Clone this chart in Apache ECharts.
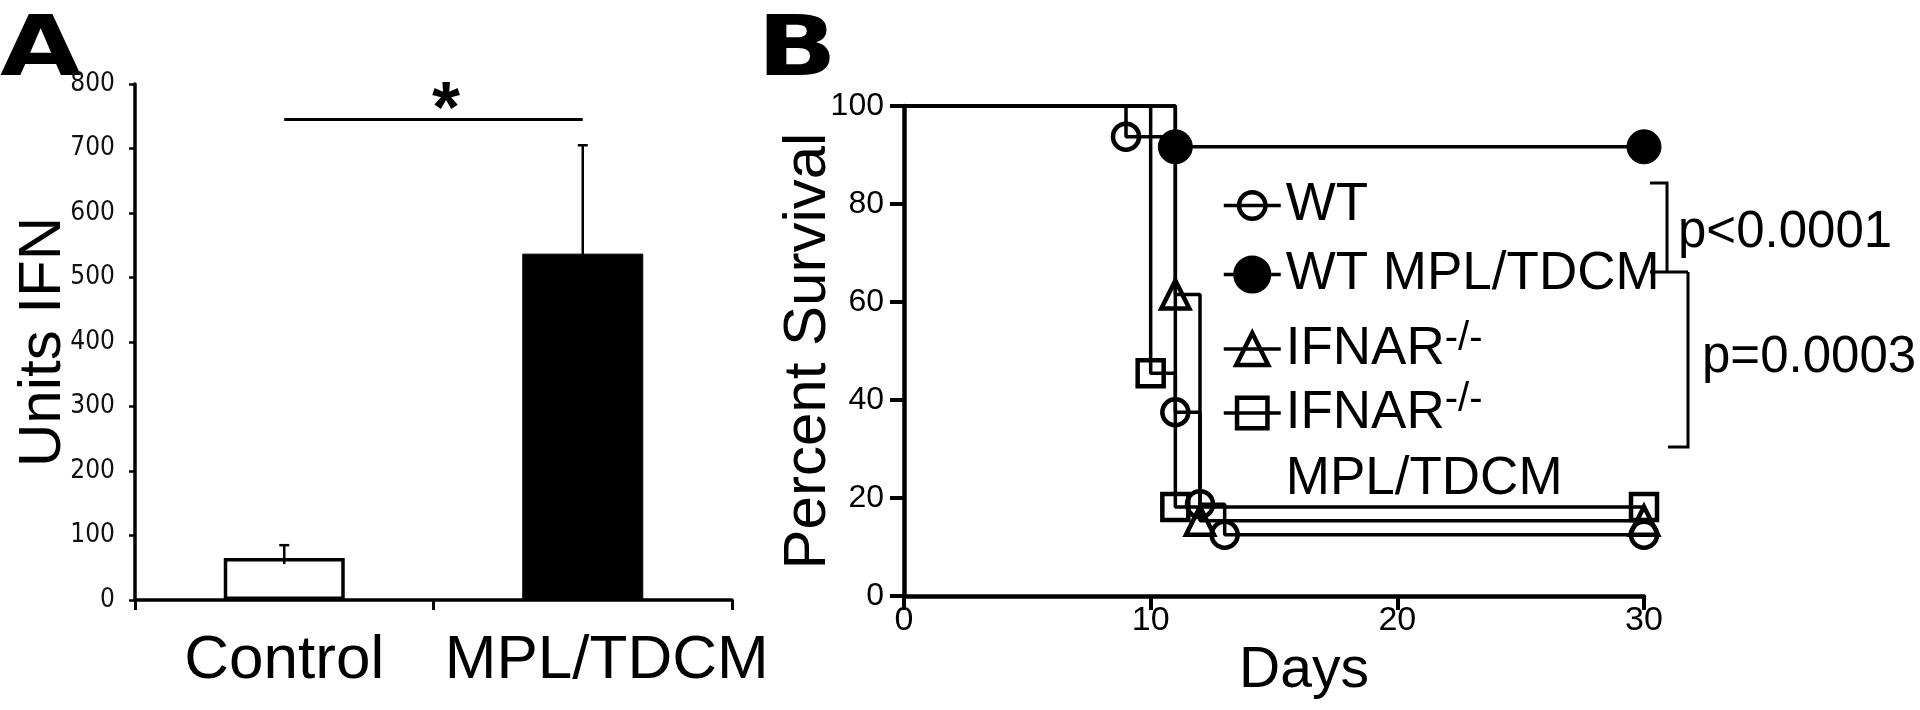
<!DOCTYPE html>
<html><head><meta charset="utf-8">
<script src="https://cdn.jsdelivr.net/npm/echarts@6/dist/echarts.min.js"></script>
<style>html,body{margin:0;padding:0;background:#fff}#c{width:1920px;height:710px}</style>
</head><body><div id="c"></div>
<script>
// ---------- Panel A data ----------
const barCategories = ['Control', 'MPL/TDCM'];
const barValues = [65, 537];
const barErrorUpper = [85, 705];
const ifnAxis = { min: 0, max: 800, interval: 100 };
const sigLevel = 745;
const sigMark = '*';

// ---------- Panel B data (Kaplan-Meier) ----------
const wtDays = [0, 9, 11, 12, 13, 30];
const wtSurvival = [100, 93.75, 37.5, 18.75, 12.5, 12.5];
const wtMplDays = [0, 11, 30];
const wtMplSurvival = [100, 91.67, 91.67];
const ifnarDays = [0, 11, 12, 30];
const ifnarSurvival = [100, 61.54, 15.38, 15.38];
const ifnarMplDays = [0, 10, 11, 30];
const ifnarMplSurvival = [100, 45.45, 18.18, 18.18];
const dayAxis = { min: 0, max: 30, interval: 10 };
const survAxis = { min: 0, max: 100, interval: 20 };
const seriesNames = ['WT', 'WT MPL/TDCM', 'IFNAR-/-', 'IFNAR-/- MPL/TDCM'];
const pValues = ['p<0.0001', 'p=0.0003'];
const panelLabels = ['A', 'B'];

const F = "'Liberation Sans', Arial, sans-serif";
const FN = "'Liberation Sans Narrow', 'DejaVu Sans Condensed', 'Liberation Sans', sans-serif";

function km(days, surv) {
  return days.map((d, i) => i === 0 ? { value: [d, surv[i]], symbol: 'none' } : [d, surv[i]]);
}

const chart = echarts.init(document.getElementById('c'), null, { renderer: 'canvas' });

const legendRich = {
  a: { fontSize: 53, fontFamily: F, color: '#000', lineHeight: 60 },
  s: { fontSize: 40, fontFamily: F, color: '#000', lineHeight: 26, verticalAlign: 'top' }
};
const legendRich2 = {
  a: { fontSize: 53, fontFamily: F, color: '#000', lineHeight: 66 },
  s: { fontSize: 40, fontFamily: F, color: '#000', lineHeight: 30, verticalAlign: 'top' }
};
function legendFmt(name) {
  if (name === 'IFNAR-/-') return '{a|IFNAR}{s|-/-}';
  if (name === 'IFNAR-/- MPL/TDCM') return '{a|IFNAR}{s|-/-}\n{a|MPL/TDCM}';
  return '{a|' + name + '}';
}
function mkLegend(name, top, ih, rich, pad) {
  return {
    left: 1222, top: top, orient: 'vertical', padding: 0, itemGap: 0,
    itemWidth: 57, itemHeight: ih, selectedMode: false,
    data: [name], formatter: legendFmt,
    itemStyle: { borderWidth: 4.5, borderColor: '#000' },
    lineStyle: { width: 3.5 },
    textStyle: { fontSize: 53, fontFamily: F, color: '#000', rich: rich, padding: pad || 0 }
  };
}

const option = {
  backgroundColor: '#fff',
  animation: false,
  legend: [
    mkLegend(seriesNames[0], 179, 33, legendRich),
    mkLegend(seriesNames[1], 248, 42, legendRich),
    mkLegend(seriesNames[2], 319, 40, legendRich),
    mkLegend(seriesNames[3], 380, 38, legendRich2, [66, 0, 0, 0])
  ],
  grid: [
    { left: 135, top: 84, width: 597, height: 516 },
    { left: 904, top: 106, width: 740, height: 490 }
  ],
  xAxis: [
    {
      type: 'category', gridIndex: 0,
      data: barCategories.map((c, i) => i === 1 ? { value: c, textStyle: { padding: [0, 0, 0, 48] } } : c),
      axisLine: { lineStyle: { color: '#000', width: 3.5 } },
      axisTick: { show: true, length: 10, lineStyle: { color: '#000', width: 3 } },
      axisLabel: { interval: 0, hideOverlap: false, fontSize: 62, fontFamily: F, color: '#000', margin: 30 }
    },
    {
      type: 'value', gridIndex: 1, min: dayAxis.min, max: dayAxis.max, interval: dayAxis.interval,
      axisLine: { show: true, lineStyle: { color: '#000', width: 4.5 } },
      axisTick: { show: true, length: 14, lineStyle: { color: '#000', width: 4 } },
      axisLabel: { fontSize: 34, fontFamily: F, color: '#000', margin: 8 },
      splitLine: { show: false },
      name: 'Days', nameLocation: 'middle', nameGap: 46,
      nameTextStyle: { fontSize: 57, fontFamily: F, color: '#000', padding: [0, 0, 0, 60] }
    }
  ],
  yAxis: [
    {
      type: 'value', gridIndex: 0, min: ifnAxis.min, max: ifnAxis.max, interval: ifnAxis.interval,
      axisLine: { show: true, lineStyle: { color: '#000', width: 3.5 } },
      axisTick: { show: true, length: 6, lineStyle: { color: '#000', width: 2.5 } },
      axisLabel: { fontSize: 26, fontFamily: FN, color: '#111', margin: 20 },
      splitLine: { show: false },
      name: 'Units IFN', nameLocation: 'middle', nameGap: 62, nameRotate: 90, nameMoveOverlap: false,
      nameTextStyle: { fontSize: 60, fontFamily: F, color: '#000' }
    },
    {
      type: 'value', gridIndex: 1, min: survAxis.min, max: survAxis.max, interval: survAxis.interval,
      axisLine: { show: true, lineStyle: { color: '#000', width: 4.5 } },
      axisTick: { show: true, length: 14, lineStyle: { color: '#000', width: 4 } },
      axisLabel: { fontSize: 32, fontFamily: F, color: '#000', margin: 20 },
      splitLine: { show: false },
      name: 'Percent Survival', nameLocation: 'middle', nameGap: 66, nameRotate: 90, nameMoveOverlap: false,
      nameTextStyle: { fontSize: 60, fontFamily: F, color: '#000' }
    }
  ],
  series: [
    {
      type: 'bar', xAxisIndex: 0, yAxisIndex: 0, barWidth: 121,
      data: barValues.map((v, i) => ({
        value: v,
        itemStyle: i === 0 ? { color: '#fff', borderColor: '#000', borderWidth: 3.5 } : { color: '#000', borderColor: '#000', borderWidth: 1 }
      })),
      markLine: {
        silent: true, symbol: ['none', 'none'],
        lineStyle: { color: '#000', width: 3, type: 'solid' },
        label: { show: false },
        data: [[{ coord: [barCategories[0], sigLevel] }, { coord: [barCategories[1], sigLevel] }]]
      }
    },
    {
      type: 'custom', xAxisIndex: 0, yAxisIndex: 0, z: 5,
      data: barCategories.map((c, i) => [i, barValues[i], barErrorUpper[i]]),
      renderItem: function (params, api) {
        const b = api.coord([api.value(0), api.value(1)]);
        const t = api.coord([api.value(0), api.value(2)]);
        const cap = 5;
        return {
          type: 'group', children: [
            { type: 'line', shape: { x1: b[0], y1: b[1] + 6, x2: t[0], y2: t[1] }, style: { stroke: '#000', lineWidth: 2.5 } },
            { type: 'line', shape: { x1: t[0] - cap, y1: t[1], x2: t[0] + cap, y2: t[1] }, style: { stroke: '#000', lineWidth: 2.5 } }
          ]
        };
      }
    },
    {
      type: 'line', name: seriesNames[3], xAxisIndex: 1, yAxisIndex: 1, step: 'end', clip: false,
      data: km(ifnarMplDays, ifnarMplSurvival), symbol: 'rect', symbolSize: 26,
      itemStyle: { color: 'rgba(0,0,0,0)', borderColor: '#000', borderWidth: 4.5 },
      lineStyle: { color: '#000', width: 3.5 }
    },
    {
      type: 'line', name: seriesNames[2], xAxisIndex: 1, yAxisIndex: 1, step: 'end', clip: false,
      data: km(ifnarDays, ifnarSurvival), symbol: 'triangle', symbolSize: 28,
      itemStyle: { color: 'rgba(0,0,0,0)', borderColor: '#000', borderWidth: 4.5 },
      lineStyle: { color: '#000', width: 3.5 }
    },
    {
      type: 'line', name: seriesNames[0], xAxisIndex: 1, yAxisIndex: 1, step: 'end', clip: false,
      data: km(wtDays, wtSurvival), symbol: 'circle', symbolSize: 26,
      itemStyle: { color: 'rgba(0,0,0,0)', borderColor: '#000', borderWidth: 4.5 },
      lineStyle: { color: '#000', width: 3.5 }
    },
    {
      type: 'line', name: seriesNames[1], xAxisIndex: 1, yAxisIndex: 1, step: 'end', clip: false,
      data: km(wtMplDays, wtMplSurvival), symbol: 'circle', symbolSize: 34,
      itemStyle: { color: '#000', borderColor: '#000', borderWidth: 1 },
      lineStyle: { color: '#000', width: 3.5 }
    }
  ],
  graphic: [
    { type: 'text', x: 0, y: 11, scaleX: 1.25, style: { text: panelLabels[0], font: "bold 84px 'DejaVu Sans', sans-serif", fill: '#000', align: 'left', verticalAlign: 'top' } },
    { type: 'text', x: 757, y: 11, scaleX: 1.25, style: { text: panelLabels[1], font: "bold 84px 'DejaVu Sans', sans-serif", fill: '#000', align: 'left', verticalAlign: 'top' } },
    { type: 'text', x: 446, y: 112, style: { text: sigMark, font: "bold 72px 'Liberation Sans', Arial, sans-serif", fill: '#000', align: 'center', verticalAlign: 'middle' } },
    { type: 'polyline', shape: { points: [[1650, 183], [1667, 183], [1667, 272]] }, style: { stroke: '#000', lineWidth: 3, fill: null } },
    { type: 'polyline', shape: { points: [[1650, 272], [1688, 272]] }, style: { stroke: '#000', lineWidth: 3, fill: null } },
    { type: 'polyline', shape: { points: [[1688, 272], [1688, 447], [1668, 447]] }, style: { stroke: '#000', lineWidth: 3, fill: null } },
    { type: 'text', x: 1678, y: 233, style: { text: pValues[0], font: "51px 'Liberation Sans', Arial, sans-serif", fill: '#000', align: 'left', verticalAlign: 'middle' } },
    { type: 'text', x: 1702, y: 358, style: { text: pValues[1], font: "51px 'Liberation Sans', Arial, sans-serif", fill: '#000', align: 'left', verticalAlign: 'middle' } }
  ]
};
chart.setOption(option);
</script>
</body></html>
